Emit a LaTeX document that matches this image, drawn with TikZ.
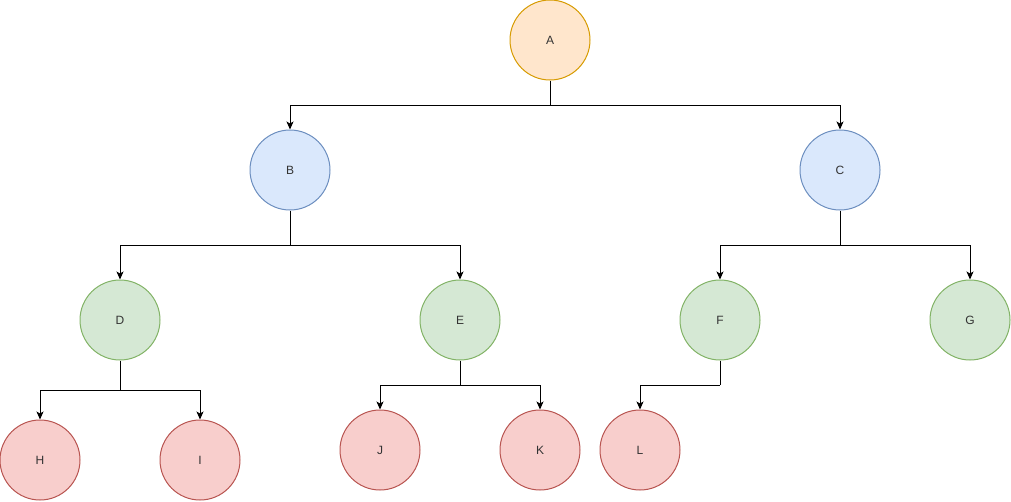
\documentclass[tikz,border=0pt]{standalone}
\usepackage{fontspec}
\setmainfont{Liberation Sans}
\usetikzlibrary{arrows.meta}

\definecolor{rootfill}{HTML}{FFE6CC}
\definecolor{rootline}{HTML}{D79B00}
\definecolor{bluefill}{HTML}{DAE8FC}
\definecolor{blueline}{HTML}{6C8EBF}
\definecolor{greenfill}{HTML}{D5E8D4}
\definecolor{greenline}{HTML}{82B366}
\definecolor{redfill}{HTML}{F8CECC}
\definecolor{redline}{HTML}{B85450}

\begin{document}
\begin{tikzpicture}[x=1pt,y=-1pt,line width=1pt,
  >={Stealth[length=8pt,width=7pt,inset=2pt]},
  vertex/.style={circle,draw,minimum size=80pt,inner sep=0pt,font=\fontsize{12}{14}\selectfont,text=black!80},
  root/.style={vertex,fill=rootfill,draw=rootline},
  inner/.style={vertex,fill=bluefill,draw=blueline},
  mid/.style={vertex,fill=greenfill,draw=greenline},
  leaf/.style={vertex,fill=redfill,draw=redline}]

\useasboundingbox (0,0) rectangle (1011,501);

\node[root] (A) at (550,40) {A};

\node[inner] (B) at (290,170) {B};
\node[inner] (C) at (840,170) {C};

\node[mid] (D) at (120,320) {D};
\node[mid] (E) at (460,320) {E};
\node[mid] (F) at (720,320) {F};
\node[mid] (G) at (970,320) {G};

\node[leaf] (H) at (40,460) {H};
\node[leaf] (I) at (200,460) {I};
\node[leaf] (J) at (380,450) {J};
\node[leaf] (K) at (540,450) {K};
\node[leaf] (L) at (640,450) {L};

% elbow points
\coordinate (a1) at (550,105);
\coordinate (b1) at (290,245);
\coordinate (c1) at (840,245);
\coordinate (d1) at (120,390);
\coordinate (e1) at (460,385);
\coordinate (f1) at (720,385);

\draw (A) -- (a1);
\draw[->] (a1) -| (B);
\draw[->] (a1) -| (C);

\draw (B) -- (b1);
\draw[->] (b1) -| (D);
\draw[->] (b1) -| (E);

\draw (C) -- (c1);
\draw[->] (c1) -| (F);
\draw[->] (c1) -| (G);

\draw (D) -- (d1);
\draw[->] (d1) -| (H);
\draw[->] (d1) -| (I);

\draw (E) -- (e1);
\draw[->] (e1) -| (J);
\draw[->] (e1) -| (K);

\draw (F) -- (f1);
\draw[->] (f1) -| (L);

\end{tikzpicture}
\end{document}
